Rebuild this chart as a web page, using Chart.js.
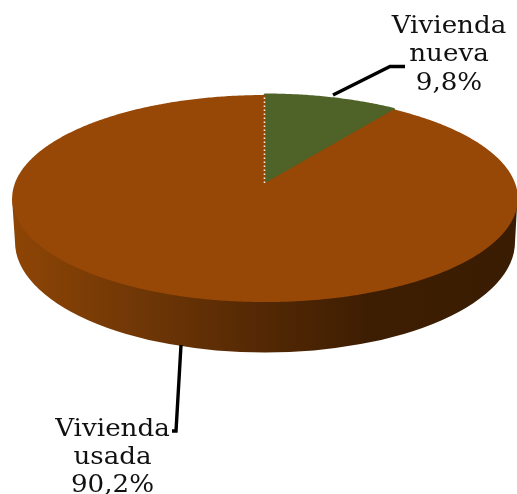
<!DOCTYPE html>
<html><head><meta charset="utf-8">
<style>html,body{margin:0;padding:0;background:#fff}canvas{display:block}</style>
<script src="https://cdn.jsdelivr.net/npm/chart.js@4/dist/chart.umd.js"></script>
</head><body><canvas id="c" width="517" height="494"></canvas>
<script>
const categories = [['Vivienda','nueva'],['Vivienda','usada']];
const values = [9.8, 90.2];
const sliceColors = ['#4f6228', '#974806'];
const sliceBorders = [3, 0];

// Perspective projection of the pie disc on to the page
const view = {cx:265, cy:183, sx:250, sy:101.2, k:-0.15};
function project(u, v){
  const d = 1 + view.k * v;
  return [view.cx + view.sx * u / d, view.cy + view.sy * v / d];
}
function tracePath(ctx, start, end){
  ctx.beginPath();
  let p = project(0,0);
  ctx.moveTo(p[0],p[1]);
  const n = Math.max(2, Math.ceil((end-start)/0.01));
  for(let i=0;i<=n;i++){
    const a = start + (end-start)*i/n;
    p = project(Math.cos(a), Math.sin(a));
    ctx.lineTo(p[0],p[1]);
  }
  ctx.closePath();
}
// Each arc draws itself through the projection, from its own angles
Chart.ArcElement.prototype.draw = function(ctx){
  const o = this.options;
  ctx.save();
  tracePath(ctx, this.startAngle, this.endAngle);
  ctx.fillStyle = o.backgroundColor;
  ctx.fill();
  if(o.borderWidth>0){
    ctx.lineWidth = o.borderWidth;
    ctx.strokeStyle = o.borderColor;
    ctx.lineJoin = 'round';
    ctx.stroke();
  }
  ctx.restore();
};

const sidePlugin = {
  id:'side',
  beforeDatasetsDraw(chart){
    const ctx = chart.ctx;
    const g = ctx.createLinearGradient(12,0,517,0);
    g.addColorStop(0,'#8e4505');
    g.addColorStop(0.25,'#703706');
    g.addColorStop(0.5,'#532804');
    g.addColorStop(0.7,'#3e1e02');
    g.addColorStop(1,'#391c02');
    ctx.save();
    ctx.beginPath();
    ctx.moveTo(12,198);
    ctx.lineTo(15,242);
    ctx.ellipse(265,242,250,110.5,0,Math.PI,0,true);
    ctx.lineTo(517.5,198);
    ctx.closePath();
    ctx.fillStyle = g;
    ctx.fill();
    ctx.restore();
  }
};
const leaders = [
  [[333,95],[390,66.5],[405,66.5]],
  [[181,345],[176,431],[172,431]]
];
const labelBoxes = [{x:449,y:[33.3,61,90]},{x:112.5,y:[435.7,464,491.7]}];
const labelPlugin = {
  id:'labels',
  afterDatasetsDraw(chart){
    const ctx = chart.ctx;
    const arc = chart.getDatasetMeta(0).data[0];
    const a = project(0,0), b = project(Math.cos(arc.startAngle), Math.sin(arc.startAngle));
    ctx.save();
    ctx.strokeStyle='#f4efe6';
    ctx.lineWidth=1.6;
    ctx.setLineDash([1.6,2.4]);
    ctx.beginPath();
    ctx.moveTo(a[0]-0.5,a[1]);
    ctx.lineTo(b[0]-0.5,b[1]);
    ctx.stroke();
    ctx.setLineDash([]);
    ctx.strokeStyle='#000';
    ctx.lineWidth=3.4;
    leaders.forEach(l=>{
      ctx.beginPath();
      l.forEach((p,i)=> i?ctx.lineTo(p[0],p[1]):ctx.moveTo(p[0],p[1]));
      ctx.stroke();
    });
    ctx.fillStyle='#111';
    ctx.font='24px "DejaVu Serif"';
    ctx.textAlign='center';
    ctx.textBaseline='alphabetic';
    categories.forEach((c,i)=>{
      const lines = c.concat(String(values[i]).replace('.',',')+'%');
      lines.forEach((t,j)=>{
        ctx.save();
        ctx.translate(labelBoxes[i].x,labelBoxes[i].y[j]);
        ctx.scale(1.09,1);
        ctx.fillText(t,0,0);
        ctx.restore();
      });
    });
    ctx.restore();
  }
};
new Chart(document.getElementById('c'),{
  type:'pie',
  data:{labels:categories.map(c=>c.join(' ')),datasets:[{
    data:values,backgroundColor:sliceColors,borderColor:sliceColors,borderWidth:sliceBorders
  }]},
  options:{responsive:false,animation:false,
    plugins:{legend:{display:false},tooltip:{enabled:false}}},
  plugins:[sidePlugin,labelPlugin]
});
</script></body></html>
